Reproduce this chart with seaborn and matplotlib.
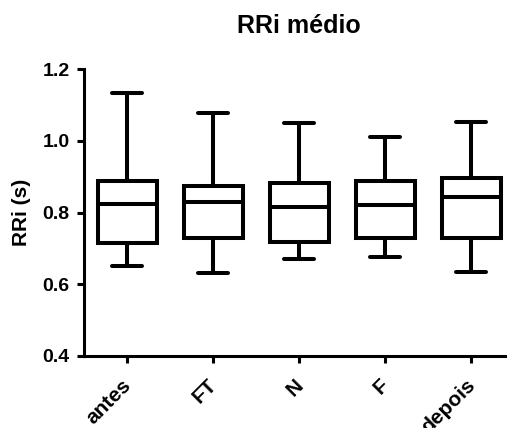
import matplotlib
matplotlib.use("Agg")
import matplotlib.pyplot as plt
import matplotlib.transforms as mtransforms
import seaborn as sns
import pandas as pd

groups = ["antes", "FT", "N", "F", "depois"]
# five-number summaries: min, Q1, median, Q3, max
mins = [0.652, 0.630, 0.670, 0.677, 0.635]
q1s = [0.716, 0.728, 0.717, 0.728, 0.728]
medians = [0.824, 0.828, 0.816, 0.821, 0.844]
q3s = [0.889, 0.874, 0.881, 0.889, 0.895]
maxs = [1.134, 1.076, 1.049, 1.010, 1.051]

rows = []
for g, a, b, c, d, e in zip(groups, mins, q1s, medians, q3s, maxs):
    for v in (a, b, c, d, e):
        rows.append({"group": g, "value": v})
df = pd.DataFrame(rows)

sns.set_style("ticks")
plt.rcParams["font.family"] = ["Liberation Sans", "DejaVu Sans"]
plt.rcParams["font.weight"] = "bold"
plt.rcParams["text.color"] = "black"
plt.rcParams["axes.labelcolor"] = "black"
plt.rcParams["xtick.color"] = "black"
plt.rcParams["ytick.color"] = "black"

fig = plt.figure(figsize=(5.07, 4.28), dpi=100)
ax = fig.add_axes([84.3 / 507, 1 - 356 / 428, 430 / 507, (356 - 69) / 428])

lw = 2.9
sns.boxplot(data=df, x="group", y="value", order=groups, whis=(0, 100),
            width=0.69, color="white", linewidth=lw, linecolor="black",
            showfliers=False, ax=ax,
            boxprops=dict(facecolor="white", edgecolor="black", linewidth=lw),
            whiskerprops=dict(color="black", linewidth=lw),
            capprops=dict(color="black", linewidth=lw),
            medianprops=dict(color="black", linewidth=lw))

ax.set_xlim(-0.5, 4.5)
ax.set_ylim(0.4, 1.2)
ax.set_yticks([0.4, 0.6, 0.8, 1.0, 1.2])
ax.set_yticklabels(["0.4", "0.6", "0.8", "1.0", "1.2"], fontsize=14,
                   fontweight="bold", color="black")
ax.set_xticks(range(len(groups)))
ax.set_xticklabels(groups, rotation=45, ha="right", rotation_mode="anchor",
                   fontsize=15, fontweight="bold", color="black")
ax.set_xlabel("")
ax.set_ylabel("RRi (s)", fontsize=15, fontweight="bold", labelpad=8, color="black")
ax.set_title("RRi médio", fontsize=18, fontweight="bold", pad=26, color="black")

for s in ("top", "right"):
    ax.spines[s].set_visible(False)
for s in ("left", "bottom"):
    ax.spines[s].set_linewidth(2.2)
    ax.spines[s].set_color("black")
ax.tick_params(axis="both", width=2.2, length=5, color="black")
ax.tick_params(axis="y", pad=5.5)
ax.tick_params(axis="x", pad=2)

offset = mtransforms.ScaledTranslation(-6 / 100, -10 / 100, fig.dpi_scale_trans)
for lab in ax.get_xticklabels():
    lab.set_transform(lab.get_transform() + offset)

fig.savefig("out.png", dpi=100)
